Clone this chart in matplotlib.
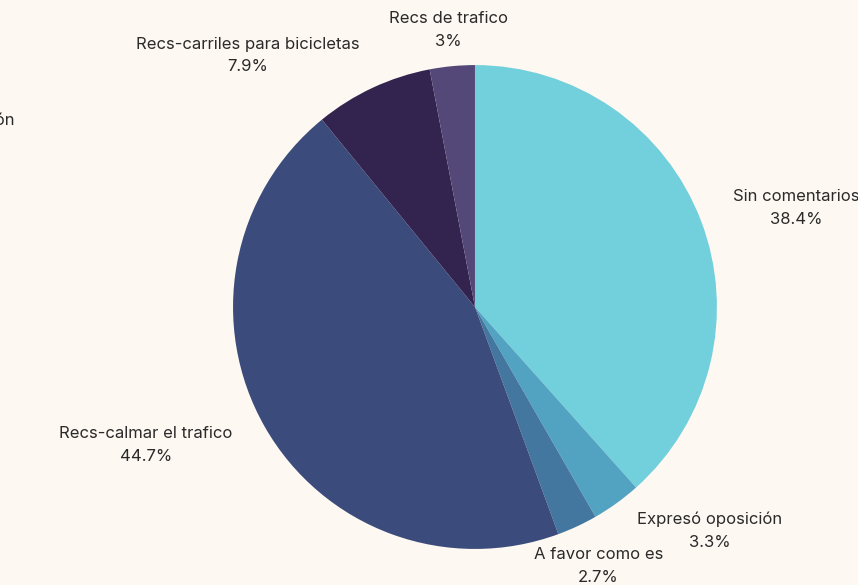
import matplotlib.pyplot as plt
import numpy as np

plt.rcParams['font.family'] = ['Inter', 'DejaVu Sans']

categories = ['Sin comentarios', 'Expresó oposición', 'A favor como es',
              'Recs-calmar el trafico', 'Recs-carriles para bicicletas', 'Recs de trafico']
shares = [38.4, 3.3, 2.7, 44.7, 7.9, 3.0]
pct_labels = ['38.4%', '3.3%', '2.7%', '44.7%', '7.9%', '3%']
colors = ['#72cfdc', '#52a2c2', '#43779f', '#3b4b7b', '#32234f', '#544878']

# label centres in axes data units (pie radius = 1)
label_xy = [(1.33, 0.41), (0.97, -0.925), (0.51, -1.07),
            (-1.36, -0.57), (-0.94, 1.04), (-0.11, 1.145)]

bg = '#fdf8f1'
fig = plt.figure(figsize=(8.58, 5.85), dpi=100, facecolor=bg)
ax = fig.add_axes([0, 0, 1, 1])
ax.set_facecolor(bg)

ax.pie(shares, colors=colors, startangle=90, counterclock=False,
       radius=1, wedgeprops=dict(linewidth=0))

for cat, pct, (x, y) in zip(categories, pct_labels, label_xy):
    ax.text(x, y, f"{cat}\n{pct}", ha='center', va='center', fontsize=12,
            color='#2a2a2a', linespacing=1.65)

# clipped title fragment at the left edge
ax.text(-1.905, 0.773, 'Opinión', ha='right', va='center', fontsize=12, color='#2a2a2a')

ax.set_xlim(-1.963, 1.583)
ax.set_ylim(-1.149, 1.269)
ax.set_aspect('equal')
ax.axis('off')

fig.savefig('out.png', dpi=100, facecolor=bg)
